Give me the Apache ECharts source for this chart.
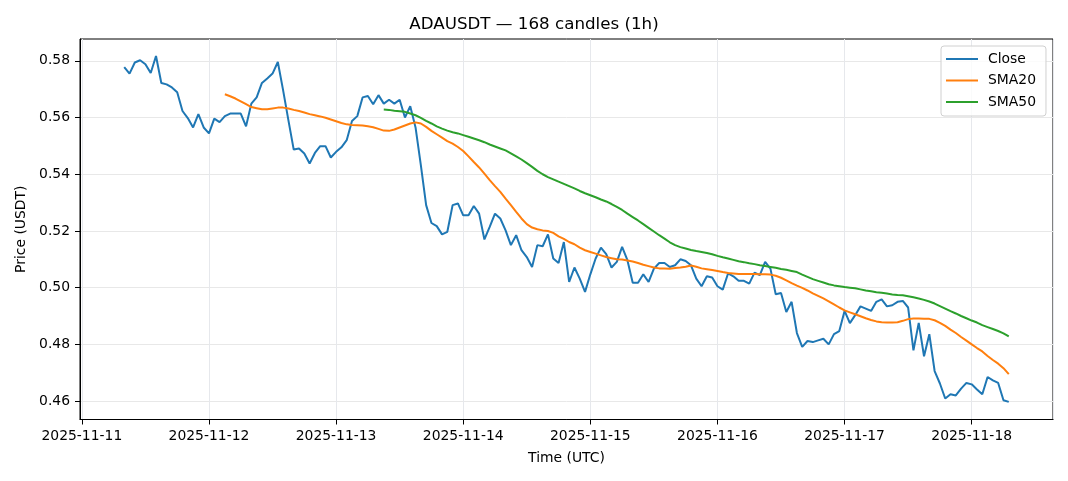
<!DOCTYPE html>
<html>
<head>
<meta charset="utf-8">
<script src="https://cdn.jsdelivr.net/npm/echarts@6/dist/echarts.min.js"></script>
<style>html,body{margin:0;padding:0;background:#fff;}#c{width:1068px;height:481px;}</style>
</head>
<body>
<div id="c"></div>
<script>
// ---- data ----
const startTime = Date.UTC(2025, 10, 11, 8, 0, 0); // first candle, hourly
const tickLabelsX = ['2025-11-11','2025-11-12','2025-11-13','2025-11-14','2025-11-15','2025-11-16','2025-11-17','2025-11-18'];
const tickLabelsY = ['0.46','0.48','0.50','0.52','0.54','0.56','0.58'];
const closeVals = [
0.5778,0.5755,0.5794,0.5802,0.5788,0.5757,0.5817,0.5722,0.5717,0.5706,
0.5689,0.5623,0.5598,0.5565,0.5612,0.5565,0.5544,0.5596,0.5584,0.5605,
0.5614,0.5614,0.5614,0.5569,0.5649,0.5671,0.5722,0.5738,0.5755,0.5796,
0.5696,0.5590,0.5487,0.5491,0.5473,0.5438,0.5475,0.5499,0.5499,0.5459,
0.5479,0.5495,0.5520,0.5588,0.5605,0.5671,0.5676,0.5647,0.5679,0.5649,
0.5663,0.5649,0.5663,0.5600,0.5640,0.5565,0.5432,0.5291,0.5228,0.5217,
0.5188,0.5197,0.5291,0.5297,0.5255,0.5255,0.5288,0.5261,0.5170,0.5214,
0.5261,0.5244,0.5202,0.5150,0.5185,0.5132,0.5108,0.5073,0.5150,0.5146,
0.5188,0.5103,0.5087,0.5161,0.5020,0.5071,0.5032,0.4985,0.5047,0.5103,
0.5141,0.5118,0.5071,0.5091,0.5144,0.5097,0.5017,0.5017,0.5047,0.5020,
0.5067,0.5087,0.5087,0.5073,0.5079,0.5100,0.5094,0.5079,0.5032,0.5005,
0.5040,0.5036,0.5005,0.4993,0.5050,0.5040,0.5024,0.5024,0.5014,0.5053,
0.5044,0.5091,0.5067,0.4977,0.4981,0.4914,0.4950,0.4840,0.4791,0.4812,
0.4808,0.4814,0.4820,0.4800,0.4836,0.4847,0.4918,0.4875,0.4903,0.4934,
0.4926,0.4918,0.4950,0.4959,0.4934,0.4938,0.4950,0.4953,0.4930,0.4779,
0.4876,0.4758,0.4836,0.4706,0.4662,0.4609,0.4624,0.4620,0.4644,0.4664,
0.4659,0.4641,0.4624,0.4685,0.4673,0.4664,0.4603,0.4597
];
const sma20Start = 19;
const sma20Vals = [
0.5682,0.5675,0.5667,0.5657,0.5647,0.5637,0.5633,0.5629,0.5629,0.5632,
0.5635,0.5635,0.5632,0.5627,0.5623,0.5618,0.5612,0.5608,0.5604,0.5599,
0.5593,0.5587,0.5581,0.5576,0.5574,0.5573,0.5572,0.5569,0.5566,0.5560,
0.5554,0.5553,0.5558,0.5565,0.5572,0.5579,0.5583,0.5579,0.5567,0.5553,
0.5541,0.5529,0.5517,0.5508,0.5496,0.5482,0.5463,0.5443,0.5424,0.5402,
0.5379,0.5358,0.5338,0.5314,0.5291,0.5267,0.5244,0.5224,0.5212,0.5206,
0.5202,0.5200,0.5193,0.5181,0.5172,0.5161,0.5153,0.5141,0.5132,0.5126,
0.5120,0.5114,0.5108,0.5104,0.5100,0.5099,0.5096,0.5092,0.5087,0.5081,
0.5076,0.5071,0.5068,0.5068,0.5067,0.5069,0.5071,0.5074,0.5078,0.5074,
0.5068,0.5065,0.5062,0.5059,0.5055,0.5052,0.5050,0.5048,0.5048,0.5048,
0.5048,0.5047,0.5047,0.5046,0.5042,0.5035,0.5026,0.5016,0.5007,0.4999,
0.4990,0.4980,0.4971,0.4962,0.4952,0.4941,0.4930,0.4920,0.4913,0.4906,
0.4899,0.4892,0.4886,0.4881,0.4878,0.4877,0.4877,0.4878,0.4883,0.4889,
0.4891,0.4891,0.4890,0.4890,0.4885,0.4876,0.4865,0.4852,0.4840,0.4826,
0.4813,0.4800,0.4787,0.4775,0.4759,0.4745,0.4732,0.4716,0.4695
];
const sma50Start = 49;
const sma50Vals = [
0.5628,0.5627,0.5624,0.5622,0.5620,0.5614,0.5608,0.5599,0.5588,0.5579,
0.5569,0.5561,0.5554,0.5548,0.5544,0.5538,0.5532,0.5526,0.5520,0.5513,
0.5505,0.5498,0.5491,0.5484,0.5474,0.5463,0.5452,0.5439,0.5426,0.5412,
0.5400,0.5390,0.5382,0.5374,0.5366,0.5358,0.5350,0.5341,0.5333,0.5326,
0.5319,0.5311,0.5304,0.5295,0.5285,0.5274,0.5261,0.5249,0.5237,0.5224,
0.5211,0.5198,0.5185,0.5173,0.5160,0.5150,0.5143,0.5138,0.5133,0.5129,
0.5126,0.5122,0.5118,0.5112,0.5107,0.5103,0.5098,0.5093,0.5090,0.5086,
0.5083,0.5079,0.5076,0.5073,0.5070,0.5066,0.5063,0.5059,0.5055,0.5046,
0.5038,0.5030,0.5024,0.5018,0.5012,0.5008,0.5005,0.5002,0.5000,0.4998,
0.4994,0.4990,0.4987,0.4984,0.4982,0.4979,0.4976,0.4974,0.4973,0.4970,
0.4966,0.4962,0.4957,0.4951,0.4944,0.4935,0.4926,0.4917,0.4909,0.4900,
0.4892,0.4884,0.4877,0.4868,0.4861,0.4854,0.4847,0.4839,0.4828
];

// ---- build ----
const HOUR = 3600 * 1000;
const DAY = 24 * HOUR;
const n = closeVals.length;
const t = i => startTime + i * HOUR;
const closeData = closeVals.map((v, i) => [t(i), v]);
const sma20Data = sma20Vals.map((v, i) => [t(i + sma20Start), v]);
const sma50Data = sma50Vals.map((v, i) => [t(i + sma50Start), v]);
const span = (n - 1) * HOUR;
const xMin = startTime - span * 0.05;
const xMax = t(n - 1) + span * 0.05;
const yMin = 0.4535, yMax = 0.5877;
const xTickVals = tickLabelsX.map(s => { const p = s.split('-'); return Date.UTC(+p[0], +p[1] - 1, +p[2]); });
const yTickVals = tickLabelsY.map(s => parseFloat(s));

const FONT = 'DejaVu Sans';
const pad2 = x => (x < 10 ? '0' : '') + x;
const fmtDate = v => { const d = new Date(v); return d.getUTCFullYear() + '-' + pad2(d.getUTCMonth() + 1) + '-' + pad2(d.getUTCDate()); };

const chart = echarts.init(document.getElementById('c'), null, {renderer: 'canvas'});
chart.setOption({
  useUTC: true,
  animation: false,
  backgroundColor: '#fff',
  title: {
    text: 'ADAUSDT — 168 candles (1h)',
    left: 'center', top: 11,
    textStyle: {fontFamily: FONT, fontSize: 16.7, fontWeight: 'normal', color: '#000'}
  },
  legend: {
    orient: 'vertical',
    left: 941, top: 46,
    padding: [5, 10, 6, 5],
    itemGap: 5.5,
    itemWidth: 32, itemHeight: 2,
    icon: 'rect',
    backgroundColor: 'rgba(255,255,255,0.8)',
    borderColor: '#d0d0d0', borderWidth: 1, borderRadius: 3,
    textStyle: {fontFamily: FONT, fontSize: 13.9, color: '#000', padding: [0, 0, 0, 5], lineHeight: 16},
    data: ['Close', 'SMA20', 'SMA50']
  },
  grid: {
    left: 80, right: 15, top: 39, bottom: 61.5,
    show: true, borderColor: '#000', borderWidth: 1, containLabel: false
  },
  xAxis: [{
    type: 'time',
    min: xMin, max: xMax,
    minInterval: DAY, maxInterval: DAY,
    name: 'Time (UTC)', nameLocation: 'middle', nameGap: 32,
    nameTextStyle: {fontFamily: FONT, fontSize: 13.9, color: '#000'},
    axisLine: {show: true, lineStyle: {color: '#000', width: 1}},
    axisTick: {show: false},
    axisLabel: {show: false},
    splitLine: {show: true, lineStyle: {color: '#e6e8ec', width: 1}}
  }, {
    type: 'value',
    position: 'bottom',
    min: xMin, max: xMax,
    axisLine: {show: false},
    axisTick: {show: true, length: 5, customValues: xTickVals, lineStyle: {color: '#000', width: 1}},
    axisLabel: {
      margin: 10, fontFamily: FONT, fontSize: 13.9, color: '#000',
      customValues: xTickVals, hideOverlap: false,
      formatter: function (v) { const s = fmtDate(v); return tickLabelsX.indexOf(s) >= 0 ? s : ''; }
    },
    splitLine: {show: false}
  }],
  yAxis: {
    type: 'value',
    min: yMin, max: yMax,
    minInterval: 0.02, maxInterval: 0.02, splitNumber: 7,
    name: 'Price (USDT)', nameLocation: 'middle', nameGap: 52,
    nameTextStyle: {fontFamily: FONT, fontSize: 13.9, color: '#000'},
    axisLine: {show: true, lineStyle: {color: '#000', width: 1}},
    axisTick: {show: true, length: 5, customValues: yTickVals, lineStyle: {color: '#000', width: 1}},
    axisLabel: {
      margin: 10, fontFamily: FONT, fontSize: 13.9, color: '#000',
      customValues: yTickVals,
      formatter: function (v) { return v.toFixed(2); }
    },
    splitLine: {show: true, lineStyle: {color: '#e8e8e8', width: 1}}
  },
  series: [
    {name: 'Close', type: 'line', xAxisIndex: 0, data: closeData, showSymbol: false, symbol: 'none',
     lineStyle: {color: '#1f77b4', width: 2}, itemStyle: {color: '#1f77b4'}, z: 3},
    {name: 'SMA20', type: 'line', xAxisIndex: 0, data: sma20Data, showSymbol: false, symbol: 'none',
     lineStyle: {color: '#ff7f0e', width: 2}, itemStyle: {color: '#ff7f0e'}, z: 4},
    {name: 'SMA50', type: 'line', xAxisIndex: 0, data: sma50Data, showSymbol: false, symbol: 'none',
     lineStyle: {color: '#2ca02c', width: 2}, itemStyle: {color: '#2ca02c'}, z: 5}
  ]
});
</script>
</body>
</html>
